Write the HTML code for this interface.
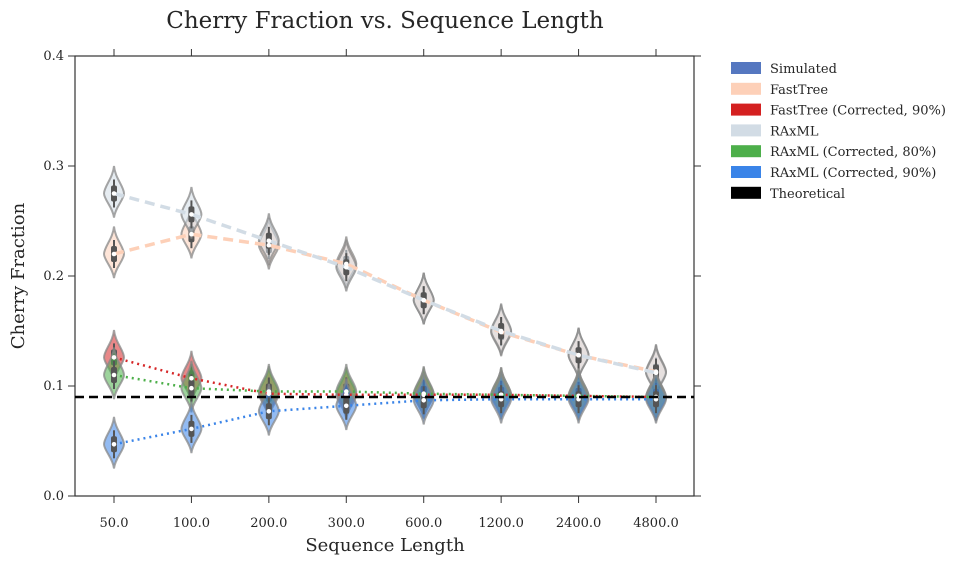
<!DOCTYPE html>
<html><head><meta charset="utf-8"><style>
body{margin:0;background:#fff;font-family:"DejaVu Serif","Liberation Serif",serif;}
svg text{font-family:"DejaVu Serif","Liberation Serif",serif;fill:#262626;}
</style></head><body>
<svg id="chart" width="974" height="563" xmlns="http://www.w3.org/2000/svg">
<text x="385" y="28" font-size="23" text-anchor="middle">Cherry Fraction vs. Sequence Length</text>
<text x="385" y="551" font-size="18" text-anchor="middle">Sequence Length</text>
<text transform="translate(24,276) rotate(-90)" font-size="18" text-anchor="middle">Cherry Fraction</text>
<g id="plot"></g>
<g id="legend"></g>
</svg>
<script>
const categories=["50.0","100.0","200.0","300.0","600.0","1200.0","2400.0","4800.0"];
const yTicks=[0.0,0.1,0.2,0.3,0.4];
const seriesNames=["Simulated","FastTree","FastTree (Corrected, 90%)","RAxML","RAxML (Corrected, 80%)","RAxML (Corrected, 90%)","Theoretical"];
const fastTree=[0.220,0.238,0.228,0.211,0.178,0.149,0.128,0.113];
const raxml=[0.275,0.256,0.232,0.208,0.178,0.150,0.128,0.112];
const fastTreeCorr90=[0.126,0.107,0.093,0.092,0.092,0.092,0.091,0.090];
const raxmlCorr80=[0.110,0.098,0.095,0.095,0.093,0.092,0.091,0.090];
const raxmlCorr90=[0.047,0.061,0.077,0.082,0.087,0.088,0.088,0.088];
const theoretical=0.09;

const NS="http://www.w3.org/2000/svg";
const L=75,R=694,T=56,B=496;
const x=i=>114+i*(656-114)/(categories.length-1);
const y=v=>B-(v/0.4)*(B-T);
const plot=document.getElementById('plot');
function mk(tag,attrs,parent){const e=document.createElementNS(NS,tag);for(const k in attrs)e.setAttribute(k,attrs[k]);(parent||plot).appendChild(e);return e;}

let f=mk('rect',{x:L,y:T,width:R-L,height:B-T,fill:'none',stroke:'#333','stroke-width':1.2});


yTicks.forEach(v=>{
 mk('line',{x1:L-7,x2:L,y1:y(v),y2:y(v),stroke:'#333'});
 mk('line',{x1:R,x2:R+7,y1:y(v),y2:y(v),stroke:'#333'});
 const t=mk('text',{x:L-11,y:y(v)+4,'font-size':13,'text-anchor':'end'});t.textContent=v.toFixed(1);
 
 
});
categories.forEach((c,i)=>{
 mk('line',{x1:x(i),x2:x(i),y1:B,y2:B+7,stroke:'#333'});
 mk('line',{x1:x(i),x2:x(i),y1:T-7,y2:T,stroke:'#333'});
 const t=mk('text',{x:x(i),y:B+31,'font-size':13,'text-anchor':'middle'});t.textContent=c;
 
 
});
const ser=[
 {d:fastTree,c:'#fdd0b8',dash:'10,6',w:3.5,n:'fasttree'},
 {d:raxml,c:'#d2dce5',dash:'10,6',w:3.5,n:'raxml'},
 {d:fastTreeCorr90,c:'#d62728',dash:'2,4',w:2.5,n:'fasttree-corrected-90'},
 {d:raxmlCorr80,c:'#4daf4a',dash:'2,4',w:2.5,n:'raxml-corrected-80'},
 {d:raxmlCorr90,c:'#3a84e8',dash:'2,4',w:2.5,n:'raxml-corrected-90'}];
ser.forEach(s=>{
 s.d.forEach((v,i)=>{
  const cx=x(i),cy=y(v),hw=10,up=y(v+0.025)-cy,dn=y(v-0.022)-cy;
  const p=`M${cx},${cy+up} C${cx+1},${cy+up+12} ${cx+hw},${cy-7} ${cx+hw},${cy} C${cx+hw},${cy+6} ${cx+1},${cy+dn-10} ${cx},${cy+dn} C${cx-1},${cy+dn-10} ${cx-hw},${cy+6} ${cx-hw},${cy} C${cx-hw},${cy-7} ${cx-1},${cy+up+12} ${cx},${cy+up}Z`;
  const e=mk('path',{d:p,fill:s.c,'fill-opacity':0.55,stroke:'#888','stroke-opacity':0.75,'stroke-width':2});
  
  
  mk('line',{x1:cx,x2:cx,y1:cy-14,y2:cy+14,stroke:'#555','stroke-width':2});
  mk('rect',{x:cx-3,y:cy-8,width:6,height:16,fill:'#555',rx:2});
 });
});
ser.forEach(s=>{
 const pts=s.d.map((v,i)=>x(i)+','+y(v)).join(' ');
 const e=mk('polyline',{points:pts,fill:'none',stroke:s.c,'stroke-width':s.w,'stroke-dasharray':s.dash});
 
 
 s.d.forEach((v,i)=>mk('circle',{cx:x(i),cy:y(v),r:2.3,fill:'#fff'}));
});
const th=mk('line',{x1:L,x2:R,y1:y(theoretical),y2:y(theoretical),stroke:'#000','stroke-width':2.5,'stroke-dasharray':'9,5'});


const lg=document.getElementById('legend');
const lc=['#5577c0','#fdd0b8','#d42020','#d2dce5','#4daf4a','#3a84e8','#000'];
seriesNames.forEach((n,i)=>{
 const yy=69+i*20.8;
 const r=mk('rect',{x:731,y:yy-7,width:30,height:12,fill:lc[i]},lg);
 
 
 const t=mk('text',{x:770,y:yy+4,'font-size':13},lg);t.textContent=n;
 
 
});
</script>
</body></html>
